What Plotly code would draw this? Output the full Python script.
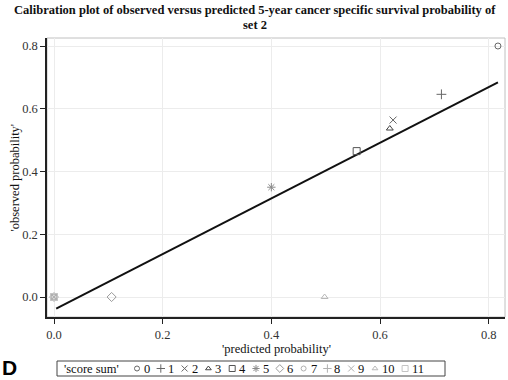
import plotly.graph_objects as go

# ---------------- data ----------------
scores = ["0", "1", "2", "3", "4", "5", "6", "7", "8", "9", "10", "11"]
predicted = [0.817, 0.713, 0.624, 0.618, 0.557, 0.400, 0.106, 0.0, 0.0, 0.0, 0.498, 0.0]
observed = [0.800, 0.646, 0.564, 0.537, 0.465, 0.350, 0.0, 0.0, 0.0, 0.0, 0.0, 0.0]
fit_x = [0.004, 0.817]
fit_y = [-0.037, 0.684]
tick_vals = [0.0, 0.2, 0.4, 0.6, 0.8]
tick_text = ["0.0", "0.2", "0.4", "0.6", "0.8"]

# ---------------- styles ----------------
symbols = ["circle-open", "cross-thin-open", "x-thin-open", "triangle-up-open", "square-open",
           "asterisk-open", "diamond-open", "circle-open", "cross-thin-open", "x-thin-open",
           "triangle-up-open", "square-open"]
colors = ["#666666", "#666666", "#666666", "#444444", "#555555", "#8a8a8a", "#9a9a9a",
          "#b0b0b0", "#b0b0b0", "#b0b0b0", "#b8b8b8", "#c4c4c4"]
sizes = [6, 7, 7, 6, 7, 7, 7, 6, 7, 7, 6, 7]

SERIF = "Liberation Serif"
W, H = 508, 380
ML, MR, MT, MB = 47, 3, 38, 2
plot_h = H - MT - MB
main_bottom_px = 317
main_dom0 = (H - MB - main_bottom_px) / plot_h
leg_dom1 = 0.15

fig = go.Figure()

# fitted line
fig.add_trace(go.Scatter(x=fit_x, y=fit_y, mode="lines",
                         line=dict(color="#111111", width=2), showlegend=False,
                         hoverinfo="skip"))

# points
for i, s in enumerate(scores):
    fig.add_trace(go.Scatter(x=[predicted[i]], y=[observed[i]], mode="markers",
                             marker=dict(symbol=symbols[i], color=colors[i], size=sizes[i],
                                         line=dict(width=1, color=colors[i])),
                             name=s, showlegend=False, cliponaxis=False))

# manual legend (pixel units on a helper axis)
lx = 137
leg_y = H - 368.5
for i, s in enumerate(scores):
    fig.add_trace(go.Scatter(x=[lx], y=[leg_y], xaxis="x2", yaxis="y2", mode="markers",
                             marker=dict(symbol=symbols[i], color=colors[i], size=sizes[i] - 1,
                                         line=dict(width=1, color=colors[i])),
                             showlegend=False, cliponaxis=False, hoverinfo="skip"))
    fig.add_annotation(text=s, xref="x2", yref="y2", x=lx + 5, y=leg_y,
                       xanchor="left", yanchor="middle", showarrow=False,
                       font=dict(family=SERIF, size=12.5, color="#111111"))
    lx += 17.5 + 6.3 * len(s)

fig.update_layout(
    width=W, height=H,
    margin=dict(l=ML, r=MR, t=MT, b=MB),
    paper_bgcolor="white", plot_bgcolor="white",
    xaxis=dict(range=[-0.0129, 0.830], tickvals=tick_vals, ticktext=tick_text,
               showgrid=True, gridcolor="#ececec", gridwidth=1, zeroline=False,
               showline=True, linecolor="#222222", linewidth=1.5,
               ticks="outside", ticklen=5, tickcolor="#222222",
               tickfont=dict(family=SERIF, size=12.5, color="#333333"), anchor="y"),
    yaxis=dict(range=[-0.0637, 0.8255], tickvals=tick_vals, ticktext=tick_text,
               domain=[main_dom0, 1],
               showgrid=True, gridcolor="#ececec", gridwidth=1, zeroline=False,
               showline=True, linecolor="#222222", linewidth=1.5,
               ticks="outside", ticklen=5, tickcolor="#222222",
               tickfont=dict(family=SERIF, size=12.5, color="#333333"), anchor="x"),
    xaxis2=dict(range=[ML, W - MR], domain=[0, 1], visible=False, anchor="y2"),
    yaxis2=dict(range=[MB, MB + leg_dom1 * plot_h], domain=[0, leg_dom1], visible=False, anchor="x2"),
)

# title (two lines)
PW = W - ML - MR
fig.add_annotation(text="<b>Calibration plot of observed versus predicted 5-year cancer specific survival probability of</b>",
                   xref="paper", yref="paper", x=(255 - ML) / PW, y=1 + (MT - 10) / (H - MT - MB),
                   xanchor="center", yanchor="middle", showarrow=False,
                   font=dict(family=SERIF, size=12.5, color="#111111"))
fig.add_annotation(text="<b>set 2</b>",
                   xref="paper", yref="paper", x=(255 - ML) / PW, y=1 + (MT - 25) / (H - MT - MB),
                   xanchor="center", yanchor="middle", showarrow=False,
                   font=dict(family=SERIF, size=12.5, color="#111111"))

# light frame on top / right
fig.add_shape(type="rect", xref="paper", yref="paper", x0=0, x1=1, y0=main_dom0, y1=1,
              line=dict(color="#c0c0c0", width=1), layer="below")

# legend box
fig.add_shape(type="rect", xref="x2", yref="y2", x0=57, x1=445, y0=H - 376, y1=H - 361,
              line=dict(color="#444444", width=1))

fig.add_annotation(text="'score sum'", xref="x2", yref="y2", x=62, y=leg_y,
                   xanchor="left", yanchor="middle", showarrow=False,
                   font=dict(family=SERIF, size=12.5, color="#111111"))

# axis titles
fig.add_annotation(text="'predicted probability'", xref="paper", yref="y2", x=0.5, y=H - 349,
                   xanchor="center", yanchor="middle", showarrow=False,
                   font=dict(family=SERIF, size=12.5, color="#111111"))
fig.add_annotation(text="'observed probability'", xref="paper", yref="paper",
                   x=(14 - ML) / PW, y=(main_dom0 + 1) / 2, textangle=-90,
                   xanchor="center", yanchor="middle", showarrow=False,
                   font=dict(family=SERIF, size=12.5, color="#111111"))

# panel letter
fig.add_annotation(text="<b>D</b>", xref="paper", yref="y2",
                   x=(9 - ML) / PW, y=H - 367,
                   xanchor="center", yanchor="middle", showarrow=False,
                   font=dict(family="Liberation Sans", size=21, color="#000000"))

fig.write_html("out.html", config={"displayModeBar": False},
               post_script="document.body.style.margin='0';document.body.style.overflow='hidden';")
